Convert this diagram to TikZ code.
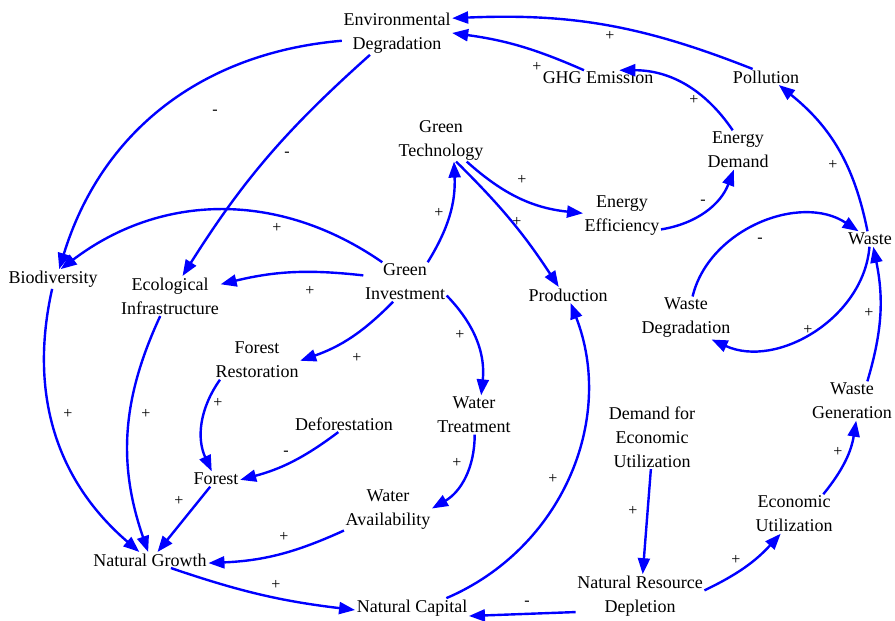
\documentclass[tikz,border=0pt]{standalone}
\usepackage{fontspec}
\setmainfont{Liberation Serif}
\usetikzlibrary{arrows.meta}
\definecolor{linkblue}{RGB}{0,0,255}
\begin{document}
\begin{tikzpicture}[x=1pt,y=-1pt,
  nd/.style={align=center, inner sep=1.5pt, font=\fontsize{18}{24}\selectfont},
  sg/.style={inner sep=0pt, font=\fontsize{16}{16}\selectfont},
  arr/.style={draw=linkblue, line width=2.4pt, -{Triangle[length=16pt,width=12pt]}}]
\useasboundingbox (0,0) rectangle (895,621);

% variables
\node[nd] (env) at (397,33) {Environmental\\Degradation};
\node[nd] (ghg) at (598,78) {GHG Emission};
\node[nd] (pol) at (766,77) {Pollution};
\node[nd] (gt) at (441,140) {Green\\Technology};
\node[nd] (ed) at (738,150) {Energy\\Demand};
\node[nd] (ee) at (622,216) {Energy\\Efficiency};
\node[nd] (waste) at (870,239) {Waste};
\node[nd] (bio) at (53,279) {Biodiversity};
\node[nd] (ei) at (170,296) {Ecological\\Infrastructure};
\node[nd] (gi) at (405,282) {Green\\Investment};
\node[nd] (prod) at (568,295) {Production};
\node[nd] (wd) at (686,318) {Waste\\Degradation};
\node[nd] (fr) at (257,360) {Forest\\Restoration};
\node[nd] (def) at (344,424) {Deforestation};
\node[nd] (wt) at (474,415) {Water\\Treatment};
\node[nd] (deu) at (652,437) {Demand for\\Economic\\Utilization};
\node[nd] (wg) at (852,401) {Waste\\Generation};
\node[nd] (forest) at (216,479) {Forest};
\node[nd] (wa) at (388,510) {Water\\Availability};
\node[nd] (eu) at (794,514) {Economic\\Utilization};
\node[nd] (ng) at (150,560) {Natural Growth};
\node[nd] (nc) at (412,608) {Natural Capital};
\node[nd] (nrd) at (640,596) {Natural Resource\\Depletion};

% causal links
\draw[arr] (pol.149) to[bend right=12] (env.15);
\draw[arr] (ghg.151) to[bend right=8] (env.0);
\draw[arr] (ed.105) to[bend right=28] (ghg.20);
\draw[arr] (ee.341) to[bend right=30] (ed.258);
\draw[arr] (gt.320) to[bend right=18] (ee.176);
\draw[arr] (gt.305) to[bend left=6] (prod.139);
\draw[arr] (gi.41) to[bend right=17] (gt.301);
\draw[arr] (waste.108) to[bend right=20] (pol.328);
\draw[arr] (wd.73) to[bend left=55] (waste.146);
\draw[arr] (waste.266) to[bend left=55] (wd.320);
\draw[arr] (wg.52) to[bend right=14] (waste.293);
\draw[arr] (eu.34) to[bend right=15] (wg.282);
\draw[arr] (nrd.5) to[bend right=11] (eu.236);
\draw[arr] (deu.268) -- (nrd.83);
\draw[arr] (nrd.194) -- (nc.352);
\draw[arr] (nc.16) to[bend right=44] (prod.288);
\draw[arr] (ng.339) to[bend right=6] (nc.182);
\draw[arr] (wa.205) to[bend left=11] (ng.357);
\draw[arr] (forest.233) -- (ng.47);
\draw[arr] (ei.244) to[bend right=22] (ng.103);
\draw[arr] (bio.265) to[bend right=31] (ng.143);
\draw[arr] (fr.208) to[bend right=30] (forest.119);
\draw[arr] (def.235) to[bend left=11] (forest.358);
\draw[arr] (gi.239) to[bend left=13] (fr.359);
\draw[arr] (gi.342) to[bend left=25] (wt.70);
\draw[arr] (wt.272) to[bend left=30] (wa.2);
\draw[arr] (gi.171) to[bend right=10] (ei.13);
\draw[arr] (gi.139) to[bend right=36] (bio.52);
\draw[arr] (env.188) to[bend right=34] (bio.58);
\draw[arr] (env.219) to[bend right=8] (ei.58);

% link polarities
\node[sg] (s1) at (610,36) {+};
\node[sg] (s2) at (537,67) {+};
\node[sg] (s3) at (694,100) {+};
\node[sg] (s4) at (703,202) {-};
\node[sg] (s5) at (522,180) {+};
\node[sg] (s6) at (517,222) {+};
\node[sg] (s7) at (439,213) {+};
\node[sg] (s8) at (833,165) {+};
\node[sg] (s9) at (760,240) {-};
\node[sg] (s10) at (808,330) {+};
\node[sg] (s11) at (869,313) {+};
\node[sg] (s12) at (838,452) {+};
\node[sg] (s13) at (736,560) {+};
\node[sg] (s14) at (633,511) {+};
\node[sg] (s15) at (527,603) {-};
\node[sg] (s16) at (553,479) {+};
\node[sg] (s17) at (276,585) {+};
\node[sg] (s18) at (284,537) {+};
\node[sg] (s19) at (179,501) {+};
\node[sg] (s20) at (146,414) {+};
\node[sg] (s21) at (68,414) {+};
\node[sg] (s22) at (218,403) {+};
\node[sg] (s23) at (286,453) {-};
\node[sg] (s24) at (357,358) {+};
\node[sg] (s25) at (460,335) {+};
\node[sg] (s26) at (457,463) {+};
\node[sg] (s27) at (310,291) {+};
\node[sg] (s28) at (277,228) {+};
\node[sg] (s29) at (215,112) {-};
\node[sg] (s30) at (287,154) {-};
\end{tikzpicture}
\end{document}
